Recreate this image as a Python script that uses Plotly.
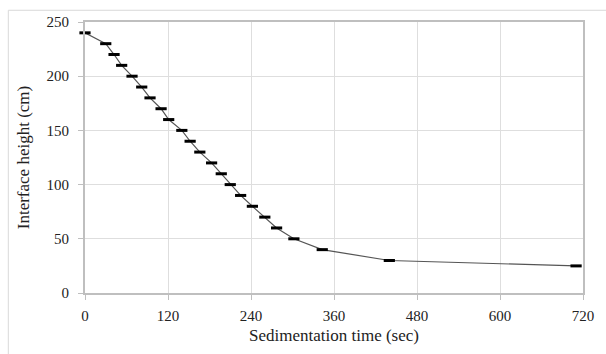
import plotly.graph_objects as go

time_sec = [0, 30, 42, 53, 68, 82, 94, 110, 121, 140, 152, 166, 183, 197, 210, 225, 242, 260, 277, 302, 343, 440, 710]
height_cm = [240, 230, 220, 210, 200, 190, 180, 170, 160, 150, 140, 130, 120, 110, 100, 90, 80, 70, 60, 50, 40, 30, 25]
x_ticks = [0, 120, 240, 360, 480, 600, 720]
y_ticks = [0, 50, 100, 150, 200, 250]

fig = go.Figure()
fig.add_trace(go.Scatter(
    x=time_sec, y=height_cm, mode="lines+markers",
    line=dict(color="#555555", width=1.2),
    marker=dict(symbol="line-ew", size=8, color="#000000",
                line=dict(color="#000000", width=3)),
    showlegend=False, cliponaxis=False,
))

axis_common = dict(
    showline=True, mirror=True, linecolor="#bfbfbf", linewidth=2,
    showgrid=True, gridcolor="#dedede", gridwidth=1,
    ticks="outside", ticklen=5, tickcolor="#bfbfbf", tickwidth=1,
    zeroline=False,
    tickfont=dict(family="Liberation Serif", size=15, color="#222222"),
)

fig.update_layout(
    width=606, height=354,
    margin=dict(l=85, r=21, t=22, b=55),
    paper_bgcolor="white", plot_bgcolor="white",
    xaxis=dict(range=[0, 720], tickvals=x_ticks, ticklabelstandoff=3,
               title=dict(text="Sedimentation time (sec)", standoff=6,
                          font=dict(family="Liberation Serif", size=17, color="#222222")),
               **axis_common),
    yaxis=dict(range=[0, 250], tickvals=y_ticks, ticklabelstandoff=6,
               title=dict(text="Interface height (cm)", standoff=13,
                          font=dict(family="Liberation Serif", size=17, color="#222222")),
               **axis_common),
    shapes=[
        dict(type="line", xref="paper", yref="paper", x0=-0.154, x1=1.1, y0=1.0433, y1=1.0433,
             line=dict(color="#d9d9d9", width=1)),
        dict(type="line", xref="paper", yref="paper", x0=-0.154, x1=-0.154, y0=1.0433, y1=-0.3,
             line=dict(color="#d9d9d9", width=1)),
    ],
)

fig.write_html("out.html", config={"displayModeBar": False},
               post_script="document.body.style.margin='0';document.body.style.overflow='hidden';")
